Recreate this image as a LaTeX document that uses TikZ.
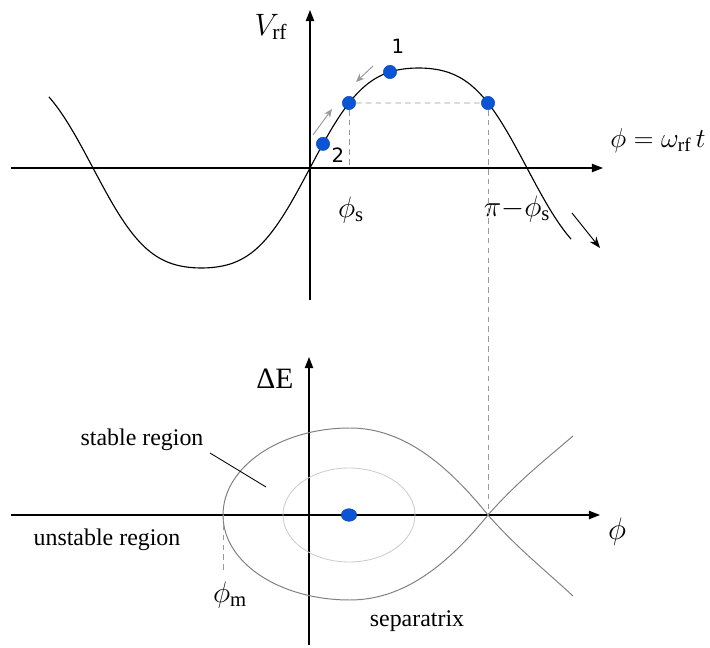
\documentclass[tikz,border=0pt]{standalone}
\usepackage{fix-cm}
\usepackage{fontspec}
\setmainfont{Liberation Serif}
\newfontfamily\numfont{DejaVu Sans}
\usetikzlibrary{arrows.meta,positioning,shapes.geometric}
\definecolor{DotBlue}{HTML}{0A55D6}
\definecolor{SepGray}{HTML}{808080}
\definecolor{OrbGray}{HTML}{CCCCCC}
\definecolor{DashGray}{HTML}{9A9A9A}

\begin{document}
\begin{tikzpicture}[
  x=0.025cm, y=-0.025cm,
  axis/.style={line width=0.9pt, -{Triangle[width=6pt,length=8pt]}},
  dot/.style={circle, fill=DotBlue, draw=DotBlue!80!black, line width=0.3pt,
              inner sep=0pt, minimum size=9.5pt},
  guide/.style={DashGray, line width=0.7pt, dash pattern=on 4pt off 3pt},
  hint/.style={DashGray, line width=0.7pt, -{Stealth[width=5pt,length=6pt]}},
  lbl/.style={font=\fontsize{17}{20}\selectfont, inner sep=1pt},
  mlbl/.style={font=\fontsize{21}{24}\selectfont, inner sep=1pt},
  num/.style={font=\numfont\fontsize{14}{16}\selectfont, inner sep=1pt},
  declare function={vrf(\x)=168-100/0.93*(sin((\x-310)/217*180)+0.07*sin(3*(\x-310)/217*180));}
]
  \useasboundingbox (0,0) rectangle (710,648);

  % upper plot: RF voltage
  \draw[axis] (11,168) -- (603,168);
  \draw[axis] (310,300) -- (310,10);
  \draw[line width=0.8pt, smooth, samples=140, domain=49:571]
    plot (\x,{vrf(\x)});

  \node[dot] (p1) at (390,{vrf(390)}) {};
  \node[dot] (p2) at (323,{vrf(323)}) {};
  \node[dot] (ps) at (349,{vrf(349)}) {};
  \node[dot] (pu) at (488,{vrf(488)}) {};
  \coordinate (sfoot) at (349,168);
  \draw[guide] (ps) -- (pu);
  \draw[guide] (ps) -- (sfoot);

  \coordinate (up0) at (313,135);  \coordinate (up1) at (332,109);
  \coordinate (dn0) at (373,66);   \coordinate (dn1) at (356,82);
  \coordinate (out0) at (572,213); \coordinate (out1) at (600,248);
  \draw[hint] (up0) -- (up1);
  \draw[hint] (dn0) -- (dn1);
  \draw[line width=0.7pt, -{Stealth[width=6pt,length=8pt]}] (out0) -- (out1);

  \node[num] (n1) at (398,46) {1};
  \node[num] (n2) at (338,155) {2};
  \node[mlbl, font=\fontsize{22}{25}\selectfont] (vlab) at (271,27) {$V_{\mathrm{rf}}$};
  \node[mlbl, font=\fontsize{19.5}{23}\selectfont] (tlab) at (658,141) {$\phi = \omega_{\mathrm{rf}}\, t$};
  \node[mlbl] (slab) at (351,210) {$\phi_{\mathrm{s}}$};
  \node[mlbl] (ulab) at (517,209) {$\pi{-}\phi_{\mathrm{s}}$};

  % lower plot: phase space
  \draw[axis] (11,515) -- (600,515);
  \draw[axis] (309,645) -- (309,357);
  \draw[OrbGray, line width=0.6pt] (349,515) ellipse [x radius=66, y radius=47];

  \coordinate (xpt) at (488,515);
  \coordinate (stop) at (350,428);
  \coordinate (sleft) at (223,515);
  \coordinate (sbot) at (350,600);
  \coordinate (armu) at (573,436);
  \coordinate (arml) at (573,596);
  \draw[SepGray, line width=0.7pt]
    (xpt) .. controls (449,467) and (405,428) .. (stop)
          .. controls (280,428) and (223,467) .. (sleft)
          .. controls (223,563) and (280,600) .. (sbot)
          .. controls (405,600) and (449,563) .. (xpt);
  \draw[SepGray, line width=0.7pt] (xpt) .. controls (517,482) and (545,460) .. (armu);
  \draw[SepGray, line width=0.7pt] (xpt) .. controls (517,548) and (545,570) .. (arml);
  \draw[guide] (pu) -- (xpt);

  \node[dot, ellipse, minimum width=11pt, minimum height=9pt] (c0) at (349,515) {};

  \coordinate (mfoot) at (223,572);
  \draw[guide] (sleft) -- (mfoot);

  \node[lbl, font=\fontsize{21}{24}\selectfont] (elab) at (275,379) {ΔE};
  \node[mlbl, font=\fontsize{22}{25}\selectfont] (plab) at (617,532) {$\phi$};
  \node[mlbl] (mlab) at (230,595) {$\phi_{\mathrm{m}}$};
  \node[lbl] (stab) at (142,440) {stable region};
  \node[lbl] (unst) at (107,540) {unstable region};
  \node[lbl] (sepx) at (417,621) {separatrix};
  \coordinate (lead0) at (210,453);
  \coordinate (lead1) at (266,487);
  \draw[line width=0.6pt] (lead0) -- (lead1);
\end{tikzpicture}
\end{document}
